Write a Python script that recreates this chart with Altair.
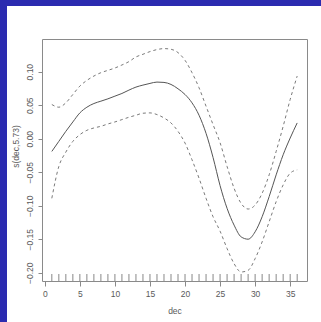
import altair as alt
import pandas as pd

# Smooth term s(dec, 5.73) with pointwise +/- 2 SE band
dec = list(range(1, 37))
fit = [-0.019, -0.004, 0.011, 0.025, 0.0385, 0.047, 0.0525, 0.056, 0.0595, 0.0635,
       0.0675, 0.0725, 0.077, 0.080, 0.0825, 0.0845, 0.084, 0.081, 0.0745, 0.066,
       0.0535, 0.035, 0.008, -0.028, -0.0700, -0.104, -0.129, -0.1465, -0.150, -0.139,
       -0.1165, -0.0865, -0.054, -0.024, 0.001, 0.0235]
upper = [0.051, 0.047, 0.0535, 0.066, 0.0785, 0.087, 0.0935, 0.0985, 0.102, 0.1055,
         0.110, 0.115, 0.122, 0.126, 0.130, 0.133, 0.1345, 0.1335, 0.1285, 0.117,
         0.0985, 0.076, 0.0485, 0.021, -0.006, -0.0415, -0.074, -0.0965, -0.105, -0.099,
         -0.0815, -0.054, -0.019, 0.0185, 0.0585, 0.0935]
lower = [-0.089, -0.0415, -0.020, -0.004, 0.006, 0.0125, 0.016, 0.0185, 0.022, 0.025,
         0.0285, 0.032, 0.035, 0.038, 0.0385, 0.036, 0.031, 0.0235, 0.011, -0.0065,
         -0.0315, -0.059, -0.089, -0.1165, -0.138, -0.164, -0.1865, -0.199, -0.1965, -0.179,
         -0.154, -0.124, -0.094, -0.069, -0.0515, -0.0465]
rug = list(range(1, 37))

x_ticks = [0, 5, 10, 15, 20, 25, 30, 35]
y_ticks = [-0.20, -0.15, -0.10, -0.05, 0.00, 0.05, 0.10]

W, H = 265, 242
FONT = "Liberation Sans"
TXT = "#5a5a5a"
AX = "#8a8a8a"
LINE = "#555555"
BLUE = "#2b2bb0"

xs = alt.Scale(domain=[-0.4, 37.4], nice=False, zero=False)
ys = alt.Scale(domain=[-0.2124, 0.1488], nice=False, zero=False)

df = pd.DataFrame({"dec": dec, "fit": fit, "upper": upper, "lower": lower})
long = df.melt("dec", var_name="band", value_name="s")
rug_df = pd.DataFrame({"dec": rug})

# blue page border along the left and top edges
left_strip = alt.Chart(alt.Data(values=[{}])).mark_rect(color=BLUE).encode(
    x=alt.value(-42), x2=alt.value(-35),
    y=alt.value(-39), y2=alt.value(H + 41),
)
top_strip = alt.Chart(alt.Data(values=[{}])).mark_rect(color=BLUE).encode(
    x=alt.value(-42), x2=alt.value(W + 14),
    y=alt.value(-39), y2=alt.value(-33),
)

x_axis = alt.Axis(values=x_ticks, title="dec", grid=False, domain=False,
                  tickColor=AX, tickSize=5, labelFont=FONT, labelFontSize=8.5,
                  labelColor=TXT, labelPadding=3, labelOverlap=False, labelFlush=False,
                  labelBound=False,
                  titleFont=FONT, titleFontSize=8.5,
                  titleFontWeight="normal", titleColor=TXT, titlePadding=9)
y_axis = alt.Axis(values=y_ticks, format=".2f", title="s(dec,5.73)", grid=False,
                  domain=False, tickColor=AX, tickSize=4, labelFont=FONT,
                  labelFontSize=8.5, labelColor=TXT, labelAngle=-90,
                  labelAlign="center", labelBaseline="bottom", labelPadding=4,
                  labelOverlap=False, labelFlush=False, labelBound=False,
                  titleFont=FONT, titleFontSize=8.5, titleFontWeight="normal",
                  titleColor=TXT, titleX=-27, titleY=H / 2 - 14,
                  titleAlign="center", titleBaseline="middle", titleAngle=-90)

solid = alt.Chart(df).mark_line(color=LINE, strokeWidth=1, interpolate="monotone").encode(
    x=alt.X("dec:Q", scale=xs, axis=x_axis),
    y=alt.Y("fit:Q", scale=ys, axis=y_axis),
)

dashed = alt.Chart(long[long["band"] != "fit"]).mark_line(
    color="#7a7a7a", strokeWidth=1, strokeDash=[3, 3], interpolate="monotone"
).encode(
    x=alt.X("dec:Q", scale=xs, axis=x_axis),
    y=alt.Y("s:Q", scale=ys, axis=y_axis),
    detail="band:N",
)

rug_marks = alt.Chart(rug_df).mark_tick(color="#555555", thickness=1, size=7, orient="vertical").encode(
    x=alt.X("dec:Q", scale=xs, axis=x_axis),
    y=alt.value(H - 3.5),
)

chart = alt.layer(solid, dashed, rug_marks, left_strip, top_strip).properties(
    width=W, height=H,
    background="white",
    padding={"left": 42, "top": 39, "right": 14, "bottom": 41},
    autosize=alt.AutoSizeParams(type="none"),
).configure_view(stroke=AX, strokeWidth=1, fill="white")

chart.save("out.html", embed_options={"renderer": "svg", "actions": False})
